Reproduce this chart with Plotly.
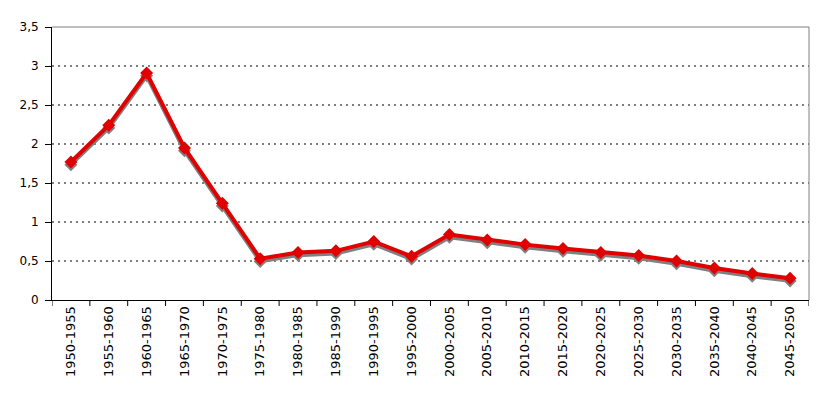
import plotly.graph_objects as go

periods = ["1950-1955", "1955-1960", "1960-1965", "1965-1970", "1970-1975",
           "1975-1980", "1980-1985", "1985-1990", "1990-1995", "1995-2000",
           "2000-2005", "2005-2010", "2010-2015", "2015-2020", "2020-2025",
           "2025-2030", "2030-2035", "2035-2040", "2040-2045", "2045-2050"]
values = [1.77, 2.24, 2.91, 1.95, 1.24, 0.53, 0.61, 0.63, 0.75, 0.56,
          0.84, 0.77, 0.71, 0.66, 0.61, 0.57, 0.50, 0.41, 0.34, 0.28]
y_ticks = [0, 0.5, 1, 1.5, 2, 2.5, 3, 3.5]
y_tick_text = ["0", "0,5", "1", "1,5", "2", "2,5", "3", "3,5"]

FONT = "DejaVu Sans, Verdana, sans-serif"
x_idx = list(range(len(periods)))

fig = go.Figure()
# shadow line: same data on the base axis whose range is shifted by ~2 px
fig.add_trace(go.Scatter(
    x=x_idx, y=values, yaxis="y", mode="lines+markers",
    line=dict(color="#808080", width=4),
    marker=dict(symbol="diamond", size=10, color="#808080"),
    hoverinfo="skip", showlegend=False))
# main red line on overlay axis (drawn above)
fig.add_trace(go.Scatter(
    x=x_idx, y=values, yaxis="y2", mode="lines+markers",
    line=dict(color="#E00000", width=4),
    marker=dict(symbol="diamond", size=10, color="#E00000"),
    showlegend=False))

grid_shapes = [
    dict(type="line", xref="paper", yref="y2", x0=0, x1=1, y0=v, y1=v,
         line=dict(color="black", width=1, dash="2px,4px"), layer="below")
    for v in y_ticks[1:-1]
]

fig.update_layout(
    width=817, height=396,
    margin=dict(l=44, r=16, t=19, b=104),
    paper_bgcolor="white", plot_bgcolor="white",
    font=dict(family=FONT, size=12, color="black"),
    xaxis=dict(
        range=[-0.5, len(periods) - 0.5],
        tickmode="array", tickvals=x_idx, ticktext=periods,
        tickangle=-90, showgrid=False, zeroline=False,
        showline=True, linecolor="black", linewidth=1,
        ticks="", ticklen=0,
        tickfont=dict(family=FONT, size=13, color="black"),
    ),
    yaxis=dict(
        range=[0.035, 3.535], showgrid=False, showticklabels=False,
        zeroline=False, showline=False, ticks="",
    ),
    yaxis2=dict(
        range=[0, 3.5], overlaying="y", side="left",
        tickmode="array", tickvals=y_ticks, ticktext=y_tick_text,
        showgrid=False, zeroline=False,
        showline=True, linecolor="black", linewidth=1,
        ticks="outside", ticklen=6, tickcolor="black",
        ticklabelstandoff=4,
        tickfont=dict(family=FONT, size=12, color="black"),
    ),
    shapes=grid_shapes + [
        dict(type="line", xref="paper", yref="paper", x0=0, x1=1, y0=1, y1=1,
             line=dict(color="#808080", width=1), layer="above"),
        dict(type="line", xref="paper", yref="paper", x0=1, x1=1, y0=0, y1=1,
             line=dict(color="#808080", width=1), layer="above"),
    ] + [
        dict(type="line", xref="x", yref="paper", x0=i - 0.5, x1=i - 0.5,
             y0=0, y1=-0.022, line=dict(color="black", width=1))
        for i in range(len(periods) + 1)
    ],
)

fig.write_html("out.html")
